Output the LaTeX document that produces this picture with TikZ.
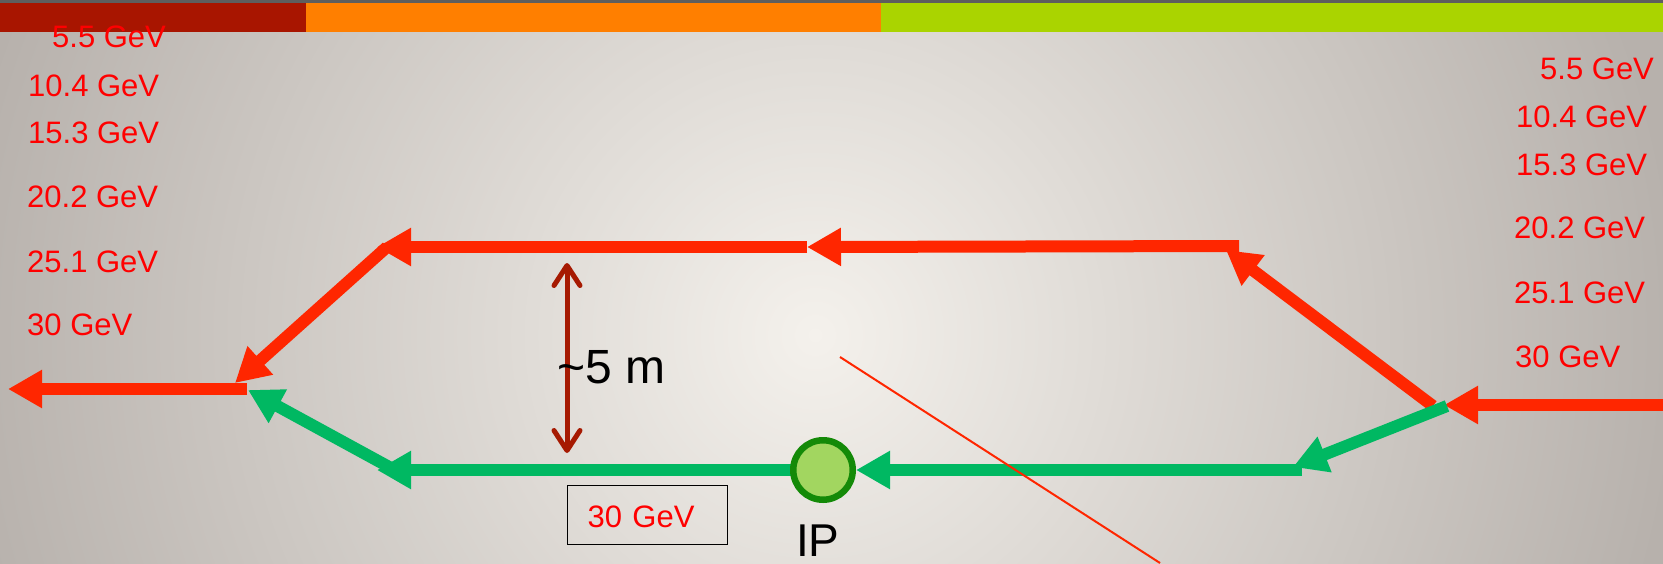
\documentclass[tikz,border=0pt]{standalone}
\usepackage{fontspec}
\setmainfont{Liberation Sans}
\usetikzlibrary{arrows.meta}
\definecolor{topgrey}{HTML}{5E5E5E}
\definecolor{barred}{HTML}{A81500}
\definecolor{barorange}{HTML}{FF7F00}
\definecolor{bargreen}{HTML}{AAD400}
\definecolor{bgin}{HTML}{F4F1EC}
\definecolor{bgout}{HTML}{B7B1AC}
\definecolor{arrowred}{HTML}{FF2600}
\definecolor{arrowgreen}{HTML}{00B862}
\definecolor{labelred}{HTML}{FF0000}
\definecolor{dimred}{HTML}{A61A02}
\definecolor{ipfill}{HTML}{A2D660}
\definecolor{ipborder}{HTML}{148A08}
\begin{document}
\begin{tikzpicture}[x=1pt,y=-1pt,
  redarrow/.style={draw=arrowred, line width=12pt, -{Triangle[length=34pt,width=36pt]}},
  greenarrow/.style={draw=arrowgreen, line width=12pt, -{Triangle[length=34pt,width=36pt]}},
  lbl/.style={anchor=base west, inner sep=0pt, text=labelred, font=\fontsize{31}{37}\selectfont},
  dimarrow/.style={draw=dimred, line width=5pt, line cap=round,
    {Straight Barb[length=20pt,width=26pt,line cap=round,line join=round]}-{Straight Barb[length=20pt,width=26pt,line cap=round,line join=round]}},
  bigtext/.style={anchor=base west, inner sep=0pt, text=black},
]
\useasboundingbox (0,0) rectangle (1663,563);
% background
\begin{scope}
  \clip (0,0) rectangle (1663,563);
  \fill[bgout] (0,0) rectangle (1663,563);
  \shade[inner color=bgin, outer color=bgout] (-50,-530) rectangle (1680,1200);
\end{scope}
% top bar
\fill[topgrey] (0,0) rectangle (1663,3);
\fill[barred] (0,3) rectangle (306,32);
\fill[barorange] (306,3) rectangle (881,32);
\fill[bargreen] (881,3) rectangle (1663,32);

% left energy labels
\node[lbl] (l1) at (52,47) {5.5 GeV};
\node[lbl] (l2) at (28,96) {10.4 GeV};
\node[lbl] (l3) at (28,143) {15.3 GeV};
\node[lbl] (l4) at (27,207) {20.2 GeV};
\node[lbl] (l5) at (27,272) {25.1 GeV};
\node[lbl] (l6) at (27,335) {30 GeV};
% right energy labels
\node[lbl] (r1) at (1540,79) {5.5 GeV};
\node[lbl] (r2) at (1516,127) {10.4 GeV};
\node[lbl] (r3) at (1516,175) {15.3 GeV};
\node[lbl] (r4) at (1514,238) {20.2 GeV};
\node[lbl] (r5) at (1514,303) {25.1 GeV};
\node[lbl] (r6) at (1515,367) {30 GeV};

% points
\coordinate (Lout) at (8,389);
\coordinate (jL) at (247,389);
\coordinate (jLd) at (235,383);
\coordinate (tlc) at (387,247);
\coordinate (tlt) at (377,247);
\coordinate (tm) at (807,247);
\coordinate (trc) at (1239,246);
\coordinate (trt) at (1226,250);
\coordinate (jR) at (1433,406);
\coordinate (Rin) at (1663,405);
\coordinate (Rint) at (1444,405);
\coordinate (gR) at (1447,406);
\coordinate (gRt) at (1293,467);
\coordinate (grc) at (1302,470);
\coordinate (glt) at (377,470);
\coordinate (glc) at (391,468);
\coordinate (gLt) at (248,390);
\coordinate (ipc) at (823,470);

% red beam
\draw[redarrow] (Rin) -- (Rint);
\draw[redarrow] (jR) -- (trt);
\draw[redarrow] (trc) -- (tm);
\draw[redarrow] (tm) -- (tlt);
\draw[redarrow] (tlc) -- (jLd);
\draw[redarrow] (jL) -- (Lout);
% green beam
\draw[greenarrow] (gR) -- (gRt);
\draw[greenarrow] (grc) -- (856,470);
\draw[greenarrow] (ipc) -- (glt);
\draw[greenarrow] (glc) -- (gLt);
% IP
\node[circle, draw=ipborder, fill=ipfill, line width=6.5pt, minimum size=59.5pt, inner sep=0pt] (IP) at (ipc) {};
\node[bigtext, font=\fontsize{46}{54}\selectfont] (iplbl) at (796,556) {IP};

% dimension
\coordinate (dT) at (567,263);
\coordinate (dB) at (567,453);
\draw[dimarrow] (dB) -- (dT);
\node[bigtext, font=\fontsize{48}{56}\selectfont] (dimlbl) at (557,383) {\textasciitilde 5 m};

% box
\node[draw=black, line width=1.3pt, anchor=north west, text width=120pt, align=left,
  inner xsep=20pt, inner ysep=0pt, minimum height=59pt, text height=25pt, text depth=0pt,
  text=labelred, font=\fontsize{31}{37}\selectfont] (ebox) at (567,485) {30 GeV};

% thin line
\coordinate (thinA) at (840,357);
\coordinate (thinB) at (1160,563);
\draw[arrowred, line width=2pt] (thinA) -- (thinB);
\end{tikzpicture}
\end{document}
